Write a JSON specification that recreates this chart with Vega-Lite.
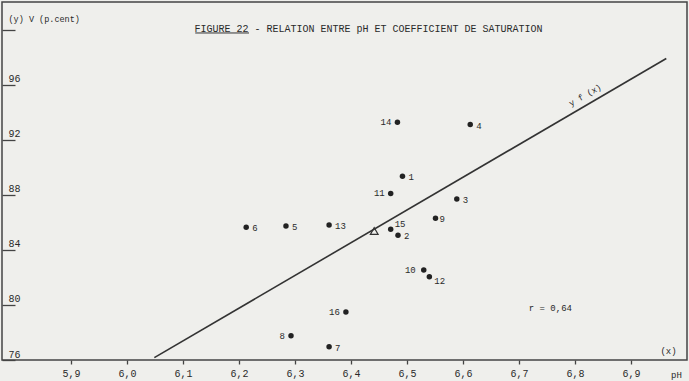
{
  "$schema": "https://vega.github.io/schema/vega-lite/v6.json",
  "width": 685,
  "height": 358,
  "autosize": "none",
  "padding": {"left": 2, "top": 2, "right": 2, "bottom": 21},
  "background": "#efefec",
  "title": {
    "text": "FIGURE 22 - RELATION ENTRE pH ET COEFFICIENT DE SATURATION",
    "offset": -32,
    "dx": 24,
    "fontSize": 10,
    "font": "Liberation Mono",
    "fontWeight": "normal",
    "color": "#2a2a2a"
  },
  "config": {
    "font": "Liberation Mono",
    "view": {"stroke": "#444444", "strokeWidth": 1.5},
    "axis": {
      "grid": false,
      "domain": false,
      "tickColor": "#444444",
      "tickWidth": 1.3,
      "labelColor": "#2a2a2a",
      "labelFont": "Liberation Mono",
      "labelFontSize": 10,
      "titleFont": "Liberation Mono",
      "titleFontWeight": "normal",
      "titleColor": "#2a2a2a"
    },
    "text": {"font": "Liberation Mono", "color": "#2a2a2a"}
  },
  "datasets": {
    "sols": [
      {"id": 1, "ph": 6.492, "v": 89.34},
      {"id": 2, "ph": 6.484, "v": 85.06},
      {"id": 3, "ph": 6.589, "v": 87.7},
      {"id": 4, "ph": 6.613, "v": 93.1},
      {"id": 5, "ph": 6.284, "v": 85.73},
      {"id": 6, "ph": 6.213, "v": 85.64},
      {"id": 7, "ph": 6.361, "v": 76.97},
      {"id": 8, "ph": 6.293, "v": 77.76},
      {"id": 9, "ph": 6.551, "v": 86.3},
      {"id": 10, "ph": 6.53, "v": 82.54},
      {"id": 11, "ph": 6.471, "v": 88.1},
      {"id": 12, "ph": 6.54, "v": 82.05},
      {"id": 13, "ph": 6.361, "v": 85.8},
      {"id": 14, "ph": 6.483, "v": 93.26},
      {"id": 15, "ph": 6.471, "v": 85.49},
      {"id": 16, "ph": 6.391, "v": 79.49}
    ],
    "regression": [
      {"ph": 6.049, "v": 76.17},
      {"ph": 6.963, "v": 97.9}
    ],
    "mean": [
      {"ph": 6.4416, "v": 85.37}
    ],
    "notes": [
      {"ph": 6.967, "v": 76.65, "t": "(x)"},
      {"ph": 6.756, "v": 79.75, "t": "r =  0,64"}
    ],
    "curveLabel": [
      {"ph": 6.818, "v": 95.25, "t": "y f (x)"}
    ]
  },
  "layer": [
    {
      "data": {"name": "regression"},
      "mark": {"type": "line", "color": "#333333", "strokeWidth": 1.6},
      "encoding": {
        "x": {
          "field": "ph",
          "type": "quantitative",
          "scale": {"domain": [5.777, 7.0], "nice": false, "zero": false},
          "axis": {
            "values": [5.9, 6.0, 6.1, 6.2, 6.3, 6.4, 6.5, 6.6, 6.7, 6.8, 6.9],
            "labelExpr": "replace(format(datum.value, '.1f'), '.', ',')",
            "tickSize": 4,
            "labelPadding": 4,
            "labelBaseline": "top",
            "title": "pH",
            "titleFontSize": 9,
            "titleX": 674,
            "titleY": 14,
            "titleAlign": "center",
            "titleBaseline": "middle"
          }
        },
        "y": {
          "field": "v",
          "type": "quantitative",
          "scale": {"domain": [76, 102], "nice": false, "zero": false},
          "axis": {
            "values": [76, 80, 84, 88, 92, 96, 100],
            "labelExpr": "datum.value == 100 ? '' : datum.label",
            "tickSize": -13,
            "labelPadding": 7,
            "labelAlign": "left",
            "labelBaseline": "alphabetic",
            "labelOffset": -3,
            "title": "(y) V (p.cent)",
            "titleFontSize": 8.5,
            "titleAngle": 0,
            "titleAlign": "left",
            "titleBaseline": "middle",
            "titleX": 6,
            "titleY": 16
          }
        }
      }
    },
    {
      "data": {"values": [{}]},
      "mark": {"type": "rule", "color": "#333333", "strokeWidth": 1},
      "encoding": {
        "x": {"datum": 6.122},
        "x2": {"datum": 6.218},
        "y": {"datum": 99.75}
      }
    },
    {
      "data": {"name": "sols"},
      "mark": {"type": "circle", "size": 30, "color": "#222222", "opacity": 1},
      "encoding": {
        "x": {"field": "ph", "type": "quantitative"},
        "y": {"field": "v", "type": "quantitative"}
      }
    },
    {
      "data": {"name": "sols"},
      "transform": [{"filter": {"field": "id", "oneOf": [1, 2, 3, 4, 5, 6, 7, 13]}}],
      "mark": {"type": "text", "align": "left", "baseline": "middle", "dx": 6, "dy": 1, "fontSize": 9},
      "encoding": {
        "x": {"field": "ph", "type": "quantitative"},
        "y": {"field": "v", "type": "quantitative"},
        "text": {"field": "id", "type": "nominal"}
      }
    },
    {
      "data": {"name": "sols"},
      "transform": [{"filter": {"field": "id", "oneOf": [8, 11, 14, 16]}}],
      "mark": {"type": "text", "align": "right", "baseline": "middle", "dx": -6, "fontSize": 9},
      "encoding": {
        "x": {"field": "ph", "type": "quantitative"},
        "y": {"field": "v", "type": "quantitative"},
        "text": {"field": "id", "type": "nominal"}
      }
    },
    {
      "data": {"name": "sols"},
      "transform": [{"filter": {"field": "id", "oneOf": [10]}}],
      "mark": {"type": "text", "align": "right", "baseline": "middle", "dx": -8, "fontSize": 9},
      "encoding": {
        "x": {"field": "ph", "type": "quantitative"},
        "y": {"field": "v", "type": "quantitative"},
        "text": {"field": "id", "type": "nominal"}
      }
    },
    {
      "data": {"name": "sols"},
      "transform": [{"filter": {"field": "id", "oneOf": [9]}}],
      "mark": {"type": "text", "align": "left", "baseline": "middle", "dx": 4, "dy": 1, "fontSize": 9},
      "encoding": {
        "x": {"field": "ph", "type": "quantitative"},
        "y": {"field": "v", "type": "quantitative"},
        "text": {"field": "id", "type": "nominal"}
      }
    },
    {
      "data": {"name": "sols"},
      "transform": [{"filter": {"field": "id", "oneOf": [15]}}],
      "mark": {"type": "text", "align": "left", "baseline": "middle", "dx": 4, "dy": -5, "fontSize": 9},
      "encoding": {
        "x": {"field": "ph", "type": "quantitative"},
        "y": {"field": "v", "type": "quantitative"},
        "text": {"field": "id", "type": "nominal"}
      }
    },
    {
      "data": {"name": "sols"},
      "transform": [{"filter": {"field": "id", "oneOf": [12]}}],
      "mark": {"type": "text", "align": "left", "baseline": "middle", "dx": 5, "dy": 4, "fontSize": 9},
      "encoding": {
        "x": {"field": "ph", "type": "quantitative"},
        "y": {"field": "v", "type": "quantitative"},
        "text": {"field": "id", "type": "nominal"}
      }
    },
    {
      "data": {"name": "mean"},
      "mark": {"type": "point", "shape": "triangle-up", "filled": false, "size": 60, "stroke": "#333333", "strokeWidth": 1.2, "opacity": 1},
      "encoding": {
        "x": {"field": "ph", "type": "quantitative"},
        "y": {"field": "v", "type": "quantitative"}
      }
    },
    {
      "data": {"name": "notes"},
      "mark": {"type": "text", "align": "center", "baseline": "middle", "fontSize": 9},
      "encoding": {
        "x": {"field": "ph", "type": "quantitative"},
        "y": {"field": "v", "type": "quantitative"},
        "text": {"field": "t", "type": "nominal"}
      }
    },
    {
      "data": {"name": "curveLabel"},
      "mark": {"type": "text", "align": "center", "baseline": "middle", "fontSize": 8.5, "angle": -30},
      "encoding": {
        "x": {"field": "ph", "type": "quantitative"},
        "y": {"field": "v", "type": "quantitative"},
        "text": {"field": "t", "type": "nominal"}
      }
    }
  ]
}
